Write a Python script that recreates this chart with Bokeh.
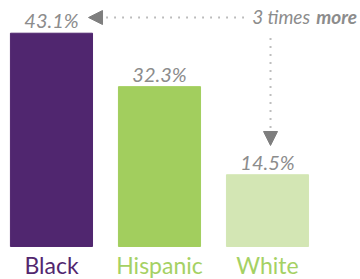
from bokeh.plotting import figure
from bokeh.models import ColumnDataSource, Range1d, Arrow, NormalHead
from bokeh.core.properties import value
from bokeh.embed import file_html
from bokeh.resources import INLINE

# ---- data ----
groups = ["Black", "Hispanic", "White"]
rates = [43.1, 32.3, 14.5]
rate_labels = ["43.1%", "32.3%", "14.5%"]
note_main = "3 times"
note_bold = "more"

bar_colors = ["#50266F", "#A2CE5E", "#D3E6B4"]
label_colors = ["#52276F", "#A5D163", "#A5D163"]
GRAY = "#8C8C8C"
ARROW = "#7E7E7E"
FONT = "Lato"

idx = list(range(len(groups)))
src = ColumnDataSource(dict(x=idx, top=rates, lab=rate_labels, grp=groups,
                            bc=bar_colors, lc=label_colors))

p = figure(width=360, height=279, output_backend="svg", toolbar_location=None,
           x_range=Range1d(-0.472, 2.861), y_range=Range1d(-6.67, 49.71),
           min_border=0, outline_line_color=None)
p.axis.visible = False
p.grid.visible = False
p.background_fill_color = "white"

p.vbar(x="x", top="top", bottom=0, width=0.76, color="bc", source=src)

# value labels
p.text(x="x", y="top", text="lab", source=src, text_align="center",
       text_baseline="alphabetic", y_offset=-13, text_color=GRAY,
       text_font=value(FONT), text_font_style="italic", text_font_size="20px")

# category labels
p.text(x="x", y=-5.86, text="grp", source=src, text_align="center",
       text_baseline="alphabetic", y_offset=-10, text_color="lc",
       text_font=value(FONT), text_font_size="23px")

# annotation "3 times more"
hi, lo = rates[0], rates[2]
note_y = hi + 3.17
note_x = 1.858
p.text(x=[note_x], y=[note_y], text=[note_main], text_align="left",
       text_baseline="middle", y_offset=-1, text_color=GRAY, text_font=value(FONT),
       text_font_style="italic", text_font_size="19px")
p.text(x=[note_x], y=[note_y], text=[note_bold], text_align="left",
       text_baseline="middle", x_offset=64, y_offset=-1, text_color=GRAY,
       text_font=value(FONT), text_font_style="bold italic", text_font_size="19px")

# horizontal arrow toward the highest value
p.add_layout(Arrow(x_start=1.778, y_start=note_y, x_end=0.343, y_end=note_y,
                   line_color=ARROW, line_width=2, line_dash="1 7",
                   end=NormalHead(size=14, fill_color=ARROW, line_color=ARROW,
                                  line_width=1)))
# vertical arrow toward the lowest value
vx = idx[2] + 0.028
p.add_layout(Arrow(x_start=vx, y_start=hi - 1.07, x_end=vx, y_end=lo + 5.91,
                   line_color=ARROW, line_width=2, line_dash="1 7",
                   end=NormalHead(size=14, fill_color=ARROW, line_color=ARROW,
                                  line_width=1)))

open("out.html", "w").write(file_html(p, INLINE))
